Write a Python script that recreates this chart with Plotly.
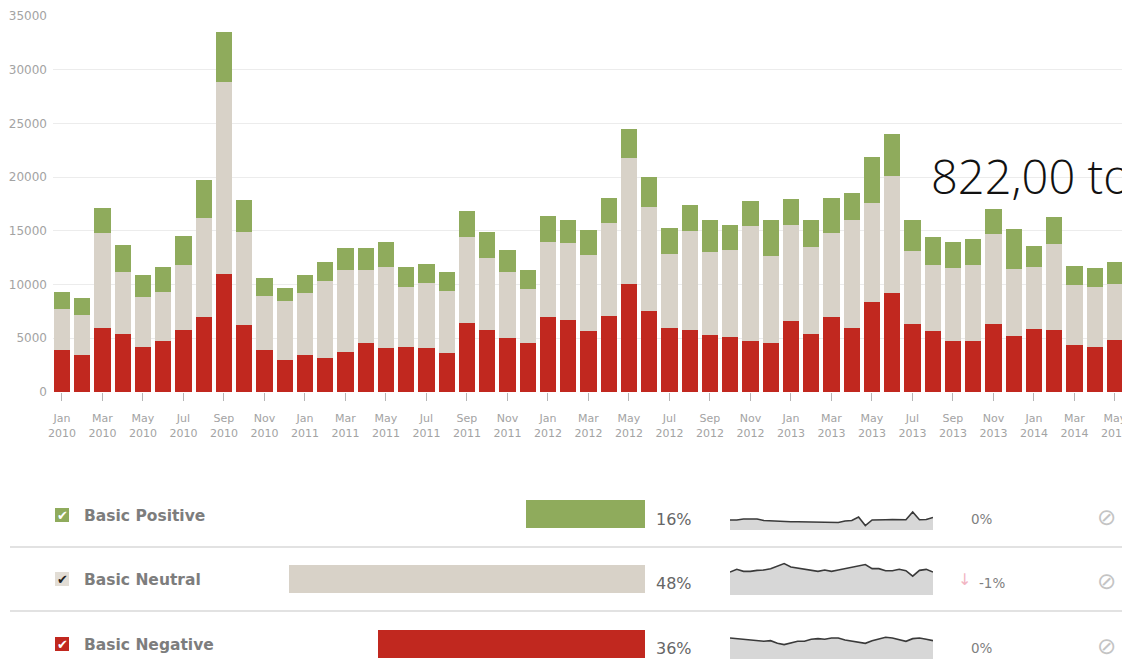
import plotly.graph_objects as go

W, H = 1122, 660

# ---------------- data ----------------
months = [
    "Jan 2010", "Feb 2010", "Mar 2010", "Apr 2010", "May 2010", "Jun 2010", "Jul 2010", "Aug 2010",
    "Sep 2010", "Oct 2010", "Nov 2010", "Dec 2010", "Jan 2011", "Feb 2011", "Mar 2011", "Apr 2011",
    "May 2011", "Jun 2011", "Jul 2011", "Aug 2011", "Sep 2011", "Oct 2011", "Nov 2011", "Dec 2011",
    "Jan 2012", "Feb 2012", "Mar 2012", "Apr 2012", "May 2012", "Jun 2012", "Jul 2012", "Aug 2012",
    "Sep 2012", "Oct 2012", "Nov 2012", "Dec 2012", "Jan 2013", "Feb 2013", "Mar 2013", "Apr 2013",
    "May 2013", "Jun 2013", "Jul 2013", "Aug 2013", "Sep 2013", "Oct 2013", "Nov 2013", "Dec 2013",
    "Jan 2014", "Feb 2014", "Mar 2014", "Apr 2014", "May 2014",
]
negative = [3930, 3460, 5930, 5370, 4170, 4720, 5780, 6940, 11000, 6270, 3930, 2940, 3490, 3180,
            3680, 4570, 4110, 4170, 4070, 3610, 6390, 5780, 5060, 4570, 6940, 6700, 5710, 7100,
            10100, 7560, 5960, 5800, 5280, 5090, 4740, 4570, 6640, 5400, 6940, 5960, 8400, 9170,
            6330, 5710, 4790, 4720, 6330, 5250, 5870, 5780, 4390, 4170, 4850]
neutral = [3790, 3730, 8870, 5810, 4630, 4630, 6020, 9260, 17850, 8630, 4970, 5490, 5680, 7160,
           7720, 6790, 7530, 5620, 6120, 5810, 8030, 6720, 6120, 5000, 7060, 7160, 7010, 8650,
           11660, 9690, 6840, 9170, 7780, 8090, 10680, 8090, 8890, 8120, 7860, 10030, 9200, 10960,
           6790, 6090, 6780, 7080, 8390, 6170, 5770, 7960, 5550, 5620, 5250]
positive = [1630, 1580, 2300, 2470, 2070, 2250, 2700, 3500, 4700, 2940, 1750, 1290, 1700, 1760,
            1970, 2070, 2310, 1880, 1760, 1760, 2400, 2400, 2020, 1820, 2360, 2190, 2380, 2350,
            2690, 2810, 2480, 2470, 2960, 2380, 2350, 3330, 2430, 2530, 3260, 2530, 4300, 3850,
            2870, 2620, 2380, 2460, 2350, 3710, 1940, 2560, 1790, 1780, 2000]

tick_months = months[::2]
tick_labels = [m.replace(" ", "<br>") for m in tick_months]
y_ticks = [0, 5000, 10000, 15000, 20000, 25000, 30000, 35000]

categories = ["Basic Positive", "Basic Neutral", "Basic Negative"]
shares = [16, 48, 36]
share_labels = ["16%", "48%", "36%"]
changes = ["0%", "-1%", "0%"]

spark_positive = [20, 20, 22, 22, 22, 19, 18, 17, 17, 16.5, 16.5, 16.5, 16.5, 16.5, 15, 16.5,
                  15, 18, 19, 26, 9, 20, 19.5, 20.5, 21, 21, 20.5, 36, 20.5, 21, 25]
spark_neutral = [44.7, 50, 46, 46, 48, 48.7, 51.3, 56.7, 61.3, 54.7, 52.7, 50, 47.3, 46, 48.7, 46,
                 48.7, 51.3, 52.7, 56.7, 59.3, 51.3, 51.3, 47.3, 47.3, 50, 47.3, 36.7, 48, 50, 44.7]
spark_negative = [42.1, 40.7, 39.4, 38.1, 36.7, 35.4, 36.7, 31.4, 28.7, 32.7, 35.4, 35.4, 39.4,
                  40.7, 39.4, 42.1, 42.1, 38.1, 35.4, 32.7, 31.4, 36.7, 39.4, 43.4, 42.1, 38.1,
                  35.4, 40.7, 42.1, 39.4, 36.7]

total_text = "822,00 to"

# ---------------- styles ----------------
C_NEG = "#c1281f"
C_NEU = "#d8d2c8"
C_POS = "#8fab5c"
GRAY_TXT = "#a3a3a3"


def px(x):
    return x / W


def py(y):
    return 1 - y / H


fig = go.Figure()

# ---------------- main stacked bar chart ----------------
for name, vals, col in [("Basic Negative", negative, C_NEG),
                        ("Basic Neutral", neutral, C_NEU),
                        ("Basic Positive", positive, C_POS)]:
    fig.add_trace(go.Bar(x=months, y=vals, name=name, marker=dict(color=col, line=dict(width=0)),
                         xaxis="x", yaxis="y"))

# ---------------- share bars (bottom panel) ----------------
row_y = [2, 1, 0]
fig.add_trace(go.Bar(x=shares, y=row_y, orientation="h", width=0.43,
                     marker=dict(color=[C_POS, C_NEU, C_NEG], line=dict(width=0)),
                     xaxis="x2", yaxis="y2"))

# ---------------- sparklines ----------------
sparks = [spark_positive, spark_neutral, spark_negative]
for i, s in enumerate(sparks):
    fig.add_trace(go.Scatter(x=list(range(len(s))), y=s, mode="lines", fill="tozeroy",
                             fillcolor="#d7d7d7", line=dict(color="#3a3a3a", width=1.6),
                             xaxis=f"x{3 + i}", yaxis=f"y{3 + i}"))

layout = dict(
    width=W, height=H,
    margin=dict(l=0, r=0, t=0, b=0, autoexpand=False),
    paper_bgcolor="white", plot_bgcolor="white",
    barmode="stack", bargap=0.2,
    showlegend=False,
    font=dict(family="DejaVu Sans", color=GRAY_TXT, size=11),
    xaxis=dict(domain=[px(53), 1], range=[-0.444, 52.35], type="category",
               tickvals=tick_months, ticktext=tick_labels, ticks="outside", ticklen=8,
               tickcolor="#b5b5b5", tickfont=dict(family="DejaVu Sans", size=11, color=GRAY_TXT),
               showgrid=False, showline=False, zeroline=False, anchor="y",
               ticklabelstandoff=8, automargin=False),
    yaxis=dict(domain=[py(392), py(16)], range=[0, 35000], tickvals=y_ticks, tickformat="d",
               tickfont=dict(family="DejaVu Sans", size=12, color=GRAY_TXT), showgrid=True,
               gridcolor="#ececec", gridwidth=1, zeroline=False, showline=False, anchor="x",
               ticklabelstandoff=5, automargin=False),
    xaxis2=dict(domain=[0, px(645)], range=[645 / 7.42, 0], visible=False, anchor="y2",
                automargin=False),
    yaxis2=dict(domain=[0, py(482)], range=[-0.246, 2.492], visible=False, anchor="x2",
                automargin=False),
)
spark_rows = [(492, 530), (556, 595), (621, 659)]
for i, (top, bot) in enumerate(spark_rows):
    layout[f"xaxis{3 + i}"] = dict(domain=[px(730), px(933)], range=[0, 30], visible=False,
                                  anchor=f"y{3 + i}", automargin=False)
    layout[f"yaxis{3 + i}"] = dict(domain=[py(bot), py(top)], range=[0, 76], visible=False,
                                  anchor=f"x{3 + i}", automargin=False)
fig.update_layout(**layout)

shapes = []
annotations = []

# separators
for yy in (547, 611):
    shapes.append(dict(type="line", xref="paper", yref="paper", x0=px(10), x1=1,
                       y0=py(yy), y1=py(yy), line=dict(color="#d9d9d9", width=1.5)))

row_centers = [515, 579, 644]
box_fill = [C_POS, "#e2ddd5", C_NEG]
check_col = ["white", "#222222", "white"]
for i, cy in enumerate(row_centers):
    # checkbox
    shapes.append(dict(type="rect", xref="paper", yref="paper", x0=px(55), x1=px(69),
                       y0=py(cy + 7), y1=py(cy - 7), fillcolor=box_fill[i], line=dict(width=0)))
    annotations.append(dict(x=px(62), y=py(cy + 0.5), xref="paper", yref="paper",
                            text="✔", showarrow=False, xanchor="center", yanchor="middle",
                            font=dict(family="DejaVu Sans", size=13, color=check_col[i])))
    # label
    annotations.append(dict(x=px(82), y=py(cy + 1), xref="paper", yref="paper", text=categories[i],
                            showarrow=False, xanchor="left", yanchor="middle",
                            font=dict(family="DejaVu Sans", size=15.5, color="#7d7d7d",
                                      weight="bold")))
    # share %
    annotations.append(dict(x=px(654), y=py(cy + 4), xref="paper", yref="paper",
                            text=share_labels[i], showarrow=False, xanchor="left",
                            yanchor="middle",
                            font=dict(family="DejaVu Sans", size=16, color="#666666")))
    # change
    annotations.append(dict(x=px(969), y=py(cy + 4), xref="paper", yref="paper",
                            text=changes[i] if changes[i] == "0%" else "",
                            showarrow=False, xanchor="left", yanchor="middle",
                            font=dict(family="DejaVu Sans", size=13.5, color="#808080")))
    # disabled icon
    annotations.append(dict(x=px(1106), y=py(cy + 2), xref="paper", yref="paper", text="⊘",
                            showarrow=False, xanchor="center", yanchor="middle",
                            font=dict(family="DejaVu Sans", size=23, color="#c4c4c4")))

annotations.append(dict(x=px(964), y=py(579), xref="paper", yref="paper", text="↓",
                        showarrow=False, xanchor="center", yanchor="middle",
                        font=dict(family="DejaVu Sans", size=16, color="#f2b5c3")))
annotations.append(dict(x=px(977), y=py(583), xref="paper", yref="paper", text=changes[1],
                        showarrow=False, xanchor="left", yanchor="middle",
                        font=dict(family="DejaVu Sans", size=13.5, color="#808080")))

# big total overlay (runs past the right edge, clipped as in the reference)
annotations.append(dict(x=px(929), y=py(176), xref="paper", yref="paper", text=total_text,
                        showarrow=False, xanchor="left", yanchor="middle",
                        font=dict(family="Open Sans", size=47, color="#111111", weight=300)))

fig.update_layout(shapes=shapes, annotations=annotations)

clip_js = (
    "document.documentElement.style.overflow='hidden';"
    "document.body.style.overflow='hidden';"
    "document.body.style.margin='0';"
    "document.querySelectorAll('.main-svg').forEach(function(s){s.style.overflow='hidden';});"
    "var d=document.getElementById('{plot_id}'); if(d){d.style.overflow='hidden';}"
)
fig.write_html("out.html", post_script=clip_js)
